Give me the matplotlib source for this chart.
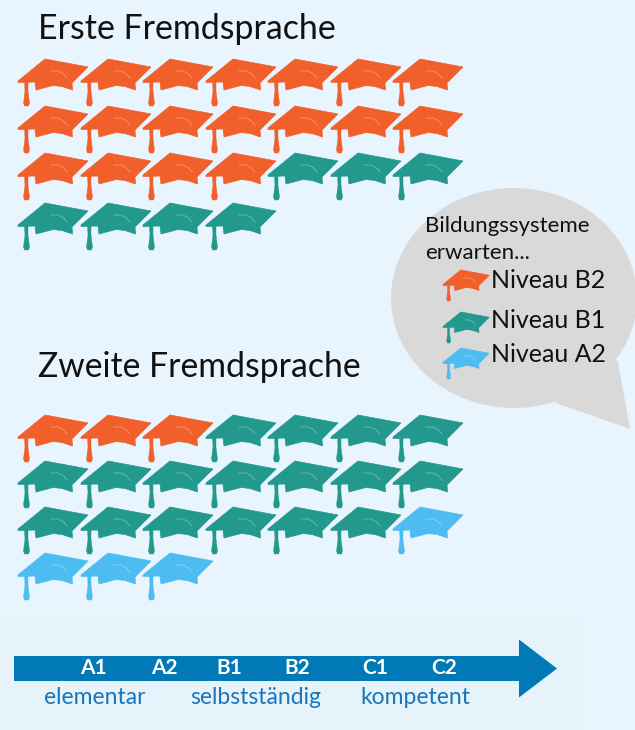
import matplotlib
matplotlib.use("Agg")
import matplotlib.pyplot as plt
from matplotlib.patches import Polygon, Ellipse, Rectangle, FancyArrow
import numpy as np

plt.rcParams['font.family'] = ['Lato', 'DejaVu Sans']

# number of caps per level, in reading order
first_levels = ['B2', 'B1']
first_counts = [18, 7]
second_levels = ['B2', 'B1', 'A2']
second_counts = [3, 17, 4]

cefr_labels = ['A1', 'A2', 'B1', 'B2', 'C1', 'C2']
band_labels = ['elementar', 'selbstständig', 'kompetent']
legend_levels = ['B2', 'B1', 'A2']

colors = {'B2': '#f15f2a', 'B1': '#23988c', 'A2': '#4dbcf0'}
bg = '#e8f5fe'

cap_x = [18, 81, 143, 206, 268, 331, 393]
cap_y1 = [59, 106, 153, 203]
cap_y2 = [415, 461, 507, 553]

# outline of one cap, pixels from its top left corner
board = np.array([[0, 22], [27, 0], [70, 8], [54, 24], [54.5, 31], [44, 27.5], [35, 26.5],
                  [18, 31], [17, 23], [0, 23.5]], dtype=float)
tassel = np.array([[6.5, 23], [10, 23], [10, 32], [11.5, 44], [10.5, 47], [6.5, 47], [5.5, 44], [7, 32]], dtype=float)
shine = np.array([[33, 12], [40, 12], [45, 14.5], [49, 19]], dtype=float)

fig = plt.figure(figsize=(6.35, 7.3), dpi=100, facecolor=bg)
ax = fig.add_axes([0, 0, 1, 1])
ax.set_xlim(0, 635)
ax.set_ylim(730, 0)
ax.axis('off')


def draw_cap(x, y, level, s=1.0):
    c = colors[level]
    ax.add_patch(Polygon(board * s + [x, y], closed=True, fc=c, ec=c, lw=0.5, zorder=3))
    ax.add_patch(Polygon(tassel * s + [x, y], closed=True, fc=c, ec=c, lw=0.3, zorder=3))
    ax.plot(shine[:, 0] * s + x, shine[:, 1] * s + y, color='#ffffff', alpha=0.3, lw=0.7, zorder=4)


def draw_block(levels, counts, rows):
    seq = []
    for l, n in zip(levels, counts):
        seq += [l] * n
    for i, l in enumerate(seq):
        draw_cap(cap_x[i % 7], rows[i // 7], l)


draw_block(first_levels, first_counts, cap_y1)
draw_block(second_levels, second_counts, cap_y2)

ax.text(38, 29, 'Erste Fremdsprache', fontsize=24.4, color='#111111', va='center', ha='left')
ax.text(38, 367, 'Zweite Fremdsprache', fontsize=24.3, color='#111111', va='center', ha='left')

# speech bubble
ax.add_patch(Ellipse((514, 298), 246, 220, fc='#d9d9d9', ec='none', zorder=1))
ax.add_patch(Polygon([[618, 362], [630, 429], [556, 403], [590, 340]], closed=True,
                     fc='#d9d9d9', ec='none', zorder=1))
ax.text(425, 226, 'Bildungssysteme', fontsize=16, color='#111111', va='center')
ax.text(425, 253, 'erwarten...', fontsize=16, color='#111111', va='center')
legend_y = [270, 312, 348]
legend_ty = [280, 321, 355]
for l, y, ty in zip(legend_levels, legend_y, legend_ty):
    draw_cap(443, y, l, 0.66)
    ax.text(491, ty, 'Niveau ' + l, fontsize=18, color='#111111', va='center')

# scale arrow
ax.add_patch(Rectangle((0, 615), 585, 115, fc='#e6f3fa', ec='none', zorder=0))
ax.add_patch(FancyArrow(14, 668.5, 543, 0, width=25, head_width=58, head_length=38,
                        length_includes_head=True, fc='#0079b6', ec='none', zorder=2))
label_x = [93, 164, 229, 297, 375, 444]
for t, x in zip(cefr_labels, label_x):
    ax.text(x, 668.5, t, fontsize=15, color='white', fontweight='bold', ha='center', va='center', zorder=3)
band_x = [95, 256, 415]
for t, x in zip(band_labels, band_x):
    ax.text(x, 698, t, fontsize=16.5, color='#1b75bc', ha='center', va='center', zorder=3)

fig.savefig('out.png', dpi=100, facecolor=bg)
